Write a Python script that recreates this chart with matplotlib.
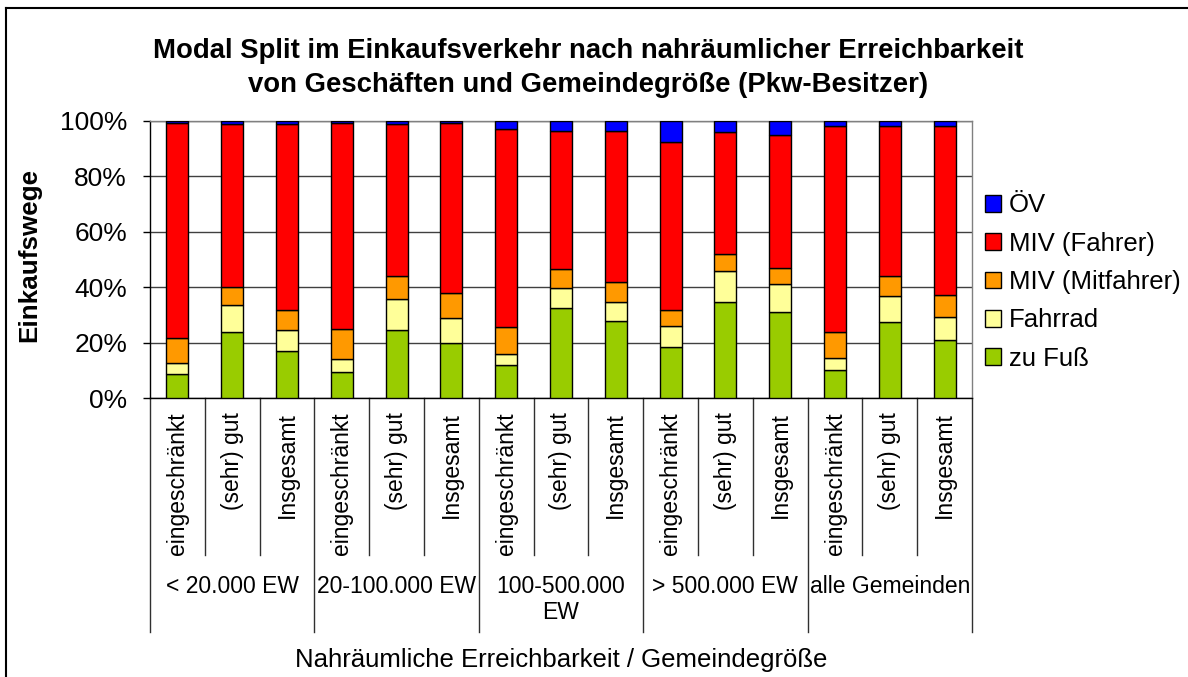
import matplotlib
matplotlib.use("Agg")
import matplotlib.pyplot as plt
from matplotlib.lines import Line2D
from matplotlib.patches import Patch
import numpy as np

plt.rcParams['font.family'] = ['Liberation Sans', 'DejaVu Sans']

title = "Modal Split im Einkaufsverkehr nach nahräumlicher Erreichbarkeit\nvon Geschäften und Gemeindegröße (Pkw-Besitzer)"
ylabel = "Einkaufswege"
xlabel = "Nahräumliche Erreichbarkeit / Gemeindegröße"

subcats = ["eingeschränkt", "(sehr) gut", "Insgesamt"]
groups = ["< 20.000 EW", "20-100.000 EW", "100-500.000\nEW", "> 500.000 EW", "alle Gemeinden"]

series_names = ["zu Fuß", "Fahrrad", "MIV (Mitfahrer)", "MIV (Fahrer)", "ÖV"]
series_colors = ["#99CC00", "#FFFF99", "#FF9900", "#FF0000", "#0000FF"]

zu_fuss     = [8.8, 23.8, 17.0, 9.5, 24.4, 19.8, 11.8, 32.4, 27.8, 18.5, 34.5, 31.2, 10.2, 27.3, 20.8]
fahrrad     = [3.7, 9.7, 7.4, 4.6, 11.4, 9.0, 4.0, 7.4, 6.7, 7.6, 11.4, 10.1, 4.3, 9.7, 8.5]
mitfahrer   = [9.0, 6.7, 7.2, 10.7, 8.4, 9.1, 9.7, 6.7, 7.3, 5.5, 6.2, 5.7, 9.3, 7.2, 8.0]
fahrer      = [77.9, 58.6, 67.2, 74.6, 54.6, 61.5, 71.6, 50.0, 54.7, 60.9, 43.9, 47.8, 74.4, 54.0, 60.9]
oev         = [0.6, 1.2, 1.2, 0.6, 1.2, 0.6, 2.9, 3.5, 3.5, 7.5, 4.0, 5.2, 1.8, 1.8, 1.8]

series = [zu_fuss, fahrrad, mitfahrer, fahrer, oev]

W, H = 1188, 677
fig = plt.figure(figsize=(W / 100, H / 100), dpi=100)
ax = fig.add_axes([150 / W, 1 - 398 / H, (972 - 150) / W, (398 - 121) / H])

n = len(zu_fuss)
x = np.arange(n)
totals = np.sum(np.array(series), axis=0)
bottom = np.zeros(n)
handles = []
for vals, name, col in zip(series, series_names, series_colors):
    v = np.array(vals) / totals * 100
    ax.bar(x, v, width=0.40, bottom=bottom, color=col, edgecolor='black', linewidth=1.0, zorder=3)
    bottom += v
    handles.append(Patch(facecolor=col, edgecolor='black', linewidth=1.0, label=name))

ax.set_xlim(-0.5, n - 0.5)
ax.set_ylim(0, 100)
ax.set_yticks([0, 20, 40, 60, 80, 100])
ax.set_yticklabels([f"{v}%" for v in [0, 20, 40, 60, 80, 100]])
ax.tick_params(axis='y', labelsize=19, length=5, width=1, direction='out', pad=11.5, colors='black')
ax.set_xticks([])
ax.yaxis.grid(True, color='#404040', linewidth=1.0, zorder=0)
ax.set_axisbelow(True)
for s in ['left', 'bottom']:
    ax.spines[s].set_color('black')
    ax.spines[s].set_linewidth(1.0)
for s in ['top', 'right']:
    ax.spines[s].set_color('#808080')
    ax.spines[s].set_linewidth(1.0)

# category separators and labels
trans = ax.get_xaxis_transform()
axh_px = 398 - 121
def ypx(p):
    # pixel row below axis bottom -> axes fraction
    return -(p - 398) / axh_px

for i in range(n + 1):
    xb = i - 0.5
    end = 632 if i % 3 == 0 else 555
    ax.add_line(Line2D([xb, xb], [0, ypx(end)], transform=trans, color='#303030', linewidth=1.0, clip_on=False))
for i, lab in enumerate(subcats * len(groups)):
    ax.text(i, ypx(412), lab, transform=trans, rotation=90, ha='center', va='top', fontsize=16.5)
for g, lab in enumerate(groups):
    ax.text(g * 3 + 1, ypx(575), lab, transform=trans, ha='center', va='top', fontsize=16.5, multialignment='center', linespacing=1.15)

fig.text(561 / W, 1 - 660 / H, xlabel, ha='center', va='center', fontsize=18.5)
fig.text(29 / W, 1 - 255 / H, ylabel, ha='center', va='center', rotation=90, fontsize=18.7, fontweight='bold')
fig.text(588 / W, 1 - 68 / H, title, ha='center', va='center', fontsize=19.8, fontweight='bold', linespacing=1.4)

fig.legend(handles=handles[::-1], loc='center left', bbox_to_anchor=(985 / W, 1 - 282 / H),
           frameon=False, fontsize=18.5, handlelength=0.62, handleheight=0.62,
           handletextpad=0.31, labelspacing=0.56, borderaxespad=0, borderpad=0)

# outer frame
fig.add_artist(Line2D([6 / W, 1.0], [1 - 8 / H, 1 - 8 / H], transform=fig.transFigure, color='black', linewidth=1.5))
fig.add_artist(Line2D([6 / W, 6 / W], [1 - 8 / H, 0], transform=fig.transFigure, color='black', linewidth=1.5))

fig.savefig("out.png", dpi=100)
